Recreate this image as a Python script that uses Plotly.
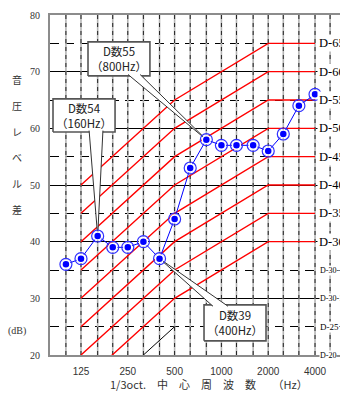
import math
import plotly.graph_objects as go

# ---- data ----
FREQS = [100, 125, 160, 200, 250, 315, 400, 500, 630, 800, 1000, 1250, 1600, 2000, 2500, 3150, 4000]
LEVEL_DIFF = [36, 37, 41, 39, 39, 40, 37, 44, 53, 58, 57, 57, 57, 56, 59, 64, 66]

GRID_FREQS = [100, 125, 160, 200, 250, 315, 400, 500, 630, 800, 1000, 1250, 1600,
              2000, 2500, 3150, 4000, 5000]
X_TICKS = [125, 250, 500, 1000, 2000, 4000]
X_TICK_TEXT = ["125", "250", "500", "1000", "2000", "4000"]
Y_TICKS = [20, 30, 40, 50, 60, 70, 80]

D_NUMBERS = [30, 35, 40, 45, 50, 55, 60, 65]
D_CURVE_FREQS = [125, 500, 2000, 4000]
D_CURVE_OFFSETS = [-15, 0, 10, 10]
D25_FREQS = [125, 500]
D25_LEVELS = [10, 25]

SMALL_LABELS = ["D-30-", "D-30-1", "D-25", "D-20"]
SMALL_LABEL_LEVELS = [35, 30, 25, 20]

CALLOUT_TEXT = ["D数55<br>（800Hz）", "D数54<br>（160Hz）", "D数39<br>（400Hz）"]
CALLOUT_FREQ = [800, 160, 400]

# ---- layout constants ----
X_RANGE = [math.log10(79.0), math.log10(5790)]
Y_RANGE = [20, 80]
# box: (f0, f1, L0, L1), wedge base (f0, f1, level)
CALLOUT_BOX = [(138.7, 347, 69.25, 75.25), (82.6, 207, 59.35, 65.2), (773, 1936, 22.5, 28.85)]
CALLOUT_BASE = [(251, 300, 69.5), (141, 173, 59.6), (883, 1103, 28.6)]

fig = go.Figure()

# vertical grid (gray underlay + black dashes)
vx, vy = [], []
for f in GRID_FREQS:
    vx += [f, f, None]
    vy += [Y_RANGE[0], Y_RANGE[1], None]
fig.add_trace(go.Scatter(x=vx, y=vy, mode="lines", line=dict(color="#b4b4b4", width=1.6),
                         hoverinfo="skip", showlegend=False))
fig.add_trace(go.Scatter(x=vx, y=vy, mode="lines", line=dict(color="#222", width=1, dash="4px,4px"),
                         hoverinfo="skip", showlegend=False))

# D curves
for d in D_NUMBERS:
    fig.add_trace(go.Scatter(x=D_CURVE_FREQS, y=[d + o for o in D_CURVE_OFFSETS], mode="lines",
                             line=dict(color="#ff0000", width=1.4), hoverinfo="skip", showlegend=False))
fig.add_trace(go.Scatter(x=D25_FREQS, y=D25_LEVELS, mode="lines",
                         line=dict(color="#000", width=1), hoverinfo="skip", showlegend=False))

# callouts
for i, f in enumerate(CALLOUT_FREQ):
    tip_y = LEVEL_DIFF[FREQS.index(f)]
    x0, x1, y0, y1 = CALLOUT_BOX[i]
    fig.add_trace(go.Scatter(x=[x0, x1, x1, x0, x0], y=[y0, y0, y1, y1, y0], mode="lines",
                             fill="toself", fillcolor="white", line=dict(color="#555", width=1.6),
                             hoverinfo="skip", showlegend=False))
    b0, b1, by = CALLOUT_BASE[i]
    fig.add_trace(go.Scatter(x=[b0, f, b1, b0], y=[by, tip_y, by, by], mode="none",
                             fill="toself", fillcolor="white", hoverinfo="skip", showlegend=False))
    fig.add_trace(go.Scatter(x=[b0, f, b1], y=[by, tip_y, by], mode="lines",
                             line=dict(color="#333", width=1), hoverinfo="skip", showlegend=False))
    fig.add_annotation(x=math.log10(math.sqrt(x0 * x1)), y=(y0 + y1) / 2, xref="x", yref="y",
                       text=CALLOUT_TEXT[i], showarrow=False,
                       font=dict(family="Noto Sans CJK JP", size=11.5, color="#222"))

# measured data
fig.add_trace(go.Scatter(x=FREQS, y=LEVEL_DIFF, mode="lines+markers",
                         line=dict(color="#0000ff", width=1),
                         marker=dict(size=8, color="#0000ff", line=dict(color="white", width=1.5)),
                         showlegend=False))
fig.add_trace(go.Scatter(x=FREQS, y=LEVEL_DIFF, mode="markers",
                         marker=dict(size=12, symbol="circle-open", color="#3030ff", line=dict(width=1.2)),
                         showlegend=False))

# D labels on right
for d in D_NUMBERS:
    fig.add_annotation(x=0.921, y=d + D_CURVE_OFFSETS[-1], xref="paper", yref="y", xanchor="left",
                       text=f"D-{d}", showarrow=False, bgcolor="white", borderpad=1,
                       font=dict(family="Liberation Serif", size=12.5, color="#000"))
for t, lv in zip(SMALL_LABELS, SMALL_LABEL_LEVELS):
    fig.add_annotation(x=0.926, y=lv, xref="paper", yref="y", xanchor="left",
                       text=t, showarrow=False, bgcolor="white", borderpad=0,
                       font=dict(family="Liberation Serif", size=8 if t != "D-25" else 9, color="#000"))

# axis titles
fig.add_annotation(x=-0.114, y=0.62, xref="paper", yref="paper", xanchor="center", yanchor="middle",
                   text="音<br><br>圧<br><br>レ<br><br>ベ<br><br>ル<br><br>差", showarrow=False,
                   font=dict(family="Noto Sans CJK JP", size=10, color="#333"))
fig.add_annotation(x=-0.114, y=0.07, xref="paper", yref="paper", xanchor="center", yanchor="middle",
                   text="(dB)", showarrow=False,
                   font=dict(family="Liberation Serif", size=10, color="#333"))
fig.add_annotation(x=0.2, y=-0.085, xref="paper", yref="paper", xanchor="left", yanchor="middle",
                   text="1/3oct.　中　心　周　波　数　　（Hz）", showarrow=False,
                   font=dict(family="Noto Sans CJK JP", size=11, color="#333"))

fig.update_layout(
    width=340, height=394,
    margin=dict(l=50, r=0, t=15, b=39),
    paper_bgcolor="white", plot_bgcolor="white",
    showlegend=False,
    xaxis=dict(type="log", range=X_RANGE, tickvals=X_TICKS, ticktext=X_TICK_TEXT,
               showgrid=False, zeroline=False, showline=True, linecolor="#8c8c8c", linewidth=2,
               mirror=True, ticks="", ticklabelstandoff=6,
               tickfont=dict(family="Liberation Sans", size=10, color="#333")),
    yaxis=dict(range=Y_RANGE, tickvals=Y_TICKS, showgrid=True, gridcolor="#000", gridwidth=1,
               zeroline=False, showline=True, linecolor="#8c8c8c", linewidth=2, mirror=False,
               ticks="", ticklabelstandoff=6,
               minor=dict(dtick=5, showgrid=True, gridcolor="#000", griddash="9px,6px", gridwidth=1),
               tickfont=dict(family="Liberation Serif", size=10, color="#333")),
)

# remove the default page margin so the figure fills the window exactly
fig.write_html("out.html", config={"displayModeBar": False},
               post_script="document.body.style.margin='0';document.body.style.overflow='hidden';")
